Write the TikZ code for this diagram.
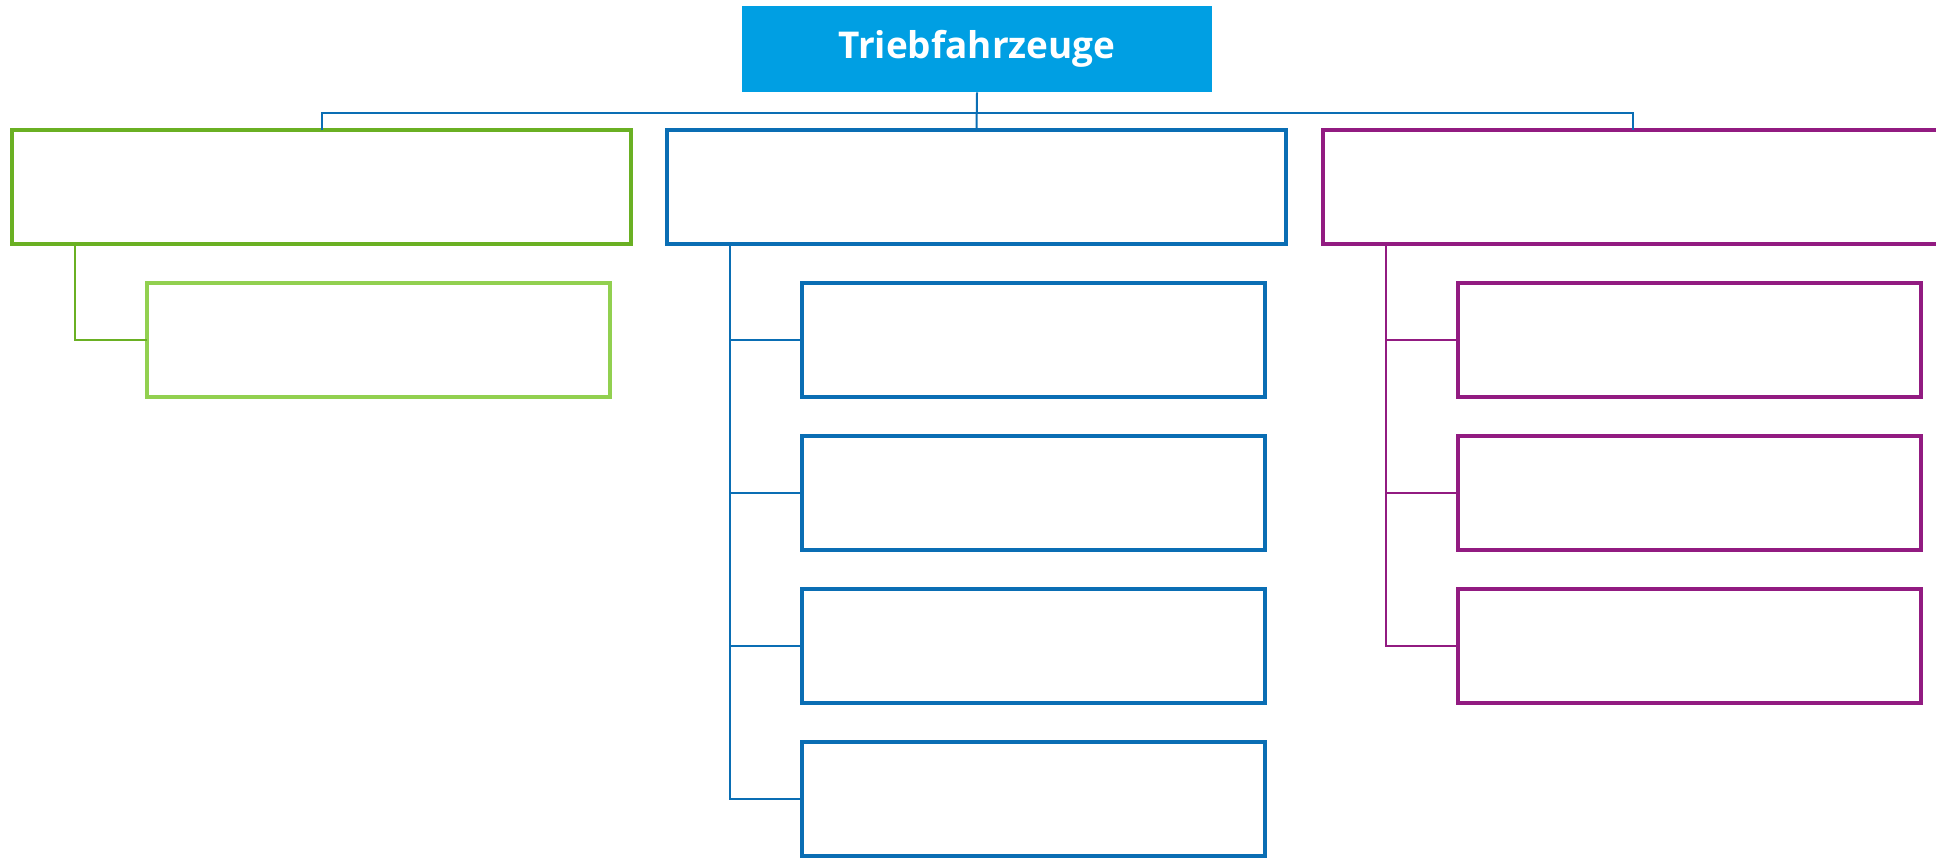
\documentclass[tikz,border=0pt]{standalone}
\usepackage{fontspec}
\setsansfont{Open Sans}
\usepackage{tikz}
\usetikzlibrary{calc}
\definecolor{titleblue}{HTML}{009FE3}
\definecolor{darkgreen}{HTML}{6AB023}
\definecolor{lightgreen}{HTML}{92D050}
\definecolor{railblue}{HTML}{0A6EB4}
\definecolor{railpurple}{HTML}{921B81}
\tikzset{
    box/.style={draw, line width=0.08cm, fill=white, inner sep=0pt, outer sep=0pt},
    topbox/.style={box, minimum width=12.38cm, minimum height=2.27cm},
    subbox/.style={box, minimum width=9.26cm, minimum height=2.28cm},
    link/.style={line width=0.04cm}
}

\begin{document}
\begin{tikzpicture}
    \useasboundingbox (0,0) rectangle (38.72,-17.16);

    % Title box
    \node[fill=titleblue, inner sep=0pt, minimum width=9.4cm, minimum height=1.72cm,
          text=white, font=\sffamily\bfseries\fontsize{21}{24}\selectfont]
          (title) at (19.54,-0.98) {Triebfahrzeuge};

    % Three main groups
    \node[topbox, draw=darkgreen] (green) at (6.43,-3.74) {};
    \node[topbox, draw=railblue] (blue) at (19.53,-3.74) {};
    \node[topbox, draw=railpurple] (purple) at (32.65,-3.74) {};

    % Links from the title
    \coordinate (bus) at (19.54,-2.26);
    \draw[link, railblue] (title.south) -- (blue.north);
    \draw[link, railblue] (green.north) |- (bus) -| (purple.north);

    % Green branch
    \node[subbox, draw=lightgreen] (green1) at (7.57,-6.79) {};
    \draw[link, darkgreen] ([xshift=1.26cm]green.south west) |- (green1.west);

    % Blue branch
    \foreach \i/\y in {1/-6.79, 2/-9.85, 3/-12.91, 4/-15.97} {
        \node[subbox, draw=railblue] (blue\i) at (20.67,\y) {};
        \draw[link, railblue] ([xshift=1.26cm]blue.south west) |- (blue\i.west);
    }

    % Purple branch
    \foreach \i/\y in {1/-6.79, 2/-9.85, 3/-12.91} {
        \node[subbox, draw=railpurple] (purple\i) at (33.78,\y) {};
        \draw[link, railpurple] ([xshift=1.26cm]purple.south west) |- (purple\i.west);
    }
\end{tikzpicture}
\end{document}
